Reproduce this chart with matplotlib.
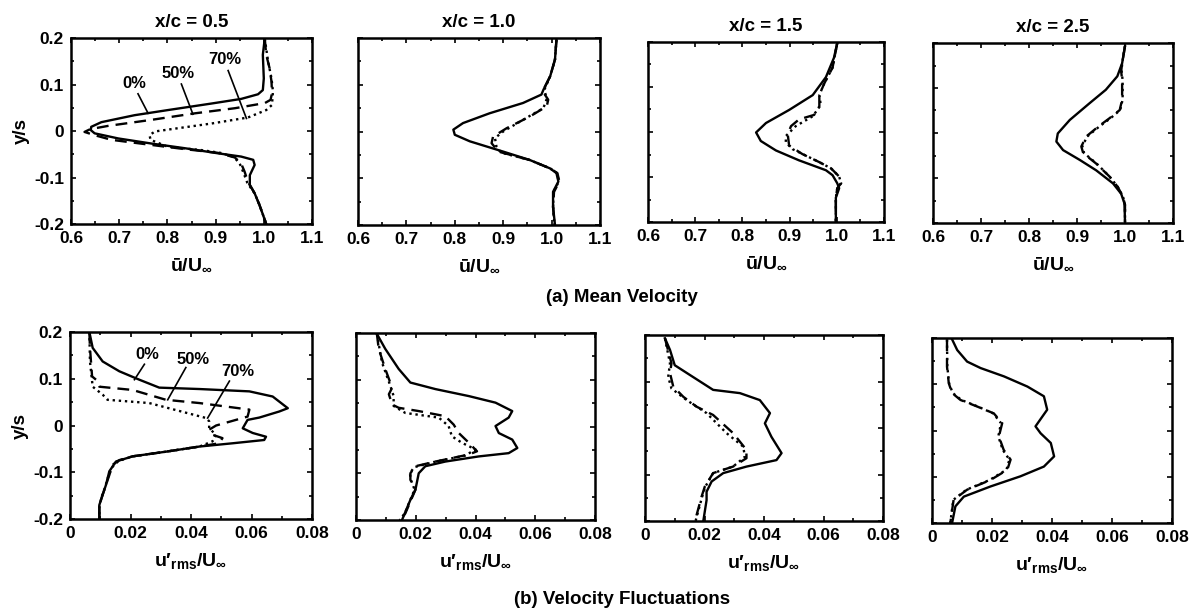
import matplotlib
matplotlib.use("Agg")
import matplotlib.pyplot as plt
from matplotlib.ticker import MultipleLocator

plt.rcParams["font.family"] = ["Liberation Sans", "DejaVu Sans"]
plt.rcParams["font.weight"] = "bold"
plt.rcParams["mathtext.fontset"] = "custom"
plt.rcParams["mathtext.rm"] = "Liberation Sans:bold"
plt.rcParams["mathtext.it"] = "Liberation Sans:bold"
plt.rcParams["mathtext.bf"] = "Liberation Sans:bold"

STATIONS = ["0.5", "1.0", "1.5", "2.5"]
CASES = ["0%", "50%", "70%"]

# ---- mean velocity profiles, u/U_inf vs y/s ----
mean_05_0_u = [1.002, 0.998, 1.000, 0.998, 0.988, 0.953, 0.891, 0.801, 0.732, 0.663, 0.642, 0.641, 0.649, 0.698,
               0.767, 0.836, 0.905, 0.953, 0.978, 0.981, 0.971, 0.971, 0.981, 0.991, 1.002, 1.005]
mean_05_0_y = [0.199, 0.164, 0.113, 0.088, 0.079, 0.069, 0.059, 0.045, 0.034, 0.019, 0.009, 0.002, -0.005, -0.016,
               -0.027, -0.037, -0.048, -0.055, -0.062, -0.073, -0.095, -0.116, -0.134, -0.159, -0.191, -0.200]
mean_05_50_u = [1.002, 1.005, 1.012, 1.016, 1.017, 1.014, 1.002, 0.940, 0.857, 0.767, 0.677, 0.640, 0.628, 0.649,
                0.684, 0.767, 0.836, 0.905, 0.940, 0.953, 0.960, 0.967, 0.981, 0.991, 1.002, 1.005]
mean_05_50_y = [0.199, 0.164, 0.135, 0.106, 0.081, 0.067, 0.060, 0.049, 0.038, 0.024, 0.011, 0.004, -0.002, -0.009,
                -0.019, -0.030, -0.039, -0.047, -0.057, -0.070, -0.087, -0.109, -0.134, -0.159, -0.191, -0.200]
mean_05_70_u = [1.002, 1.009, 1.016, 1.019, 1.017, 1.005, 0.967, 0.891, 0.822, 0.774, 0.763, 0.765, 0.801, 0.870,
                0.910, 0.938, 0.950, 0.958, 0.966, 0.981, 0.991, 1.002, 1.005]
mean_05_70_y = [0.199, 0.149, 0.113, 0.085, 0.056, 0.045, 0.029, 0.016, 0.006, -0.001, -0.009, -0.019, -0.034, -0.041,
                -0.047, -0.056, -0.070, -0.090, -0.112, -0.134, -0.159, -0.191, -0.200]

mean_10_0_u = [1.010, 1.007, 0.997, 0.983, 0.979, 0.941, 0.872, 0.817, 0.797, 0.800, 0.831, 0.900, 0.955, 0.997,
               1.010, 1.014, 1.003, 1.003, 1.007]
mean_10_0_y = [0.196, 0.154, 0.118, 0.089, 0.079, 0.061, 0.039, 0.018, 0.004, -0.007, -0.021, -0.043, -0.061, -0.079,
               -0.089, -0.107, -0.129, -0.161, -0.200]
mean_10_50_u = [1.010, 1.007, 0.997, 0.983, 0.986, 0.993, 0.990, 0.955, 0.907, 0.879, 0.876, 0.890, 0.955, 0.997,
                1.012, 1.016, 1.005, 1.003, 1.006]
mean_10_50_y = [0.196, 0.154, 0.118, 0.089, 0.079, 0.068, 0.054, 0.032, 0.007, -0.011, -0.025, -0.043, -0.061, -0.079,
                -0.089, -0.107, -0.129, -0.161, -0.200]
mean_10_70_u = [1.010, 1.007, 0.997, 0.985, 0.990, 0.983, 0.941, 0.900, 0.883, 0.886, 0.895, 0.955, 0.997, 1.011,
                1.015, 1.004, 1.003, 1.006]
mean_10_70_y = [0.196, 0.154, 0.118, 0.089, 0.070, 0.050, 0.025, 0.000, -0.014, -0.032, -0.045, -0.061, -0.079,
                -0.089, -0.107, -0.129, -0.161, -0.200]

mean_15_0_u = [1.001, 0.994, 0.977, 0.949, 0.899, 0.850, 0.829, 0.839, 0.871, 0.920, 0.977, 0.991, 1.001, 1.005,
               0.998, 0.998]
mean_15_0_y = [0.198, 0.165, 0.122, 0.082, 0.049, 0.020, -0.001, -0.020, -0.041, -0.063, -0.085, -0.096, -0.114,
               -0.125, -0.146, -0.200]
mean_15_50_u = [1.001, 0.991, 0.973, 0.963, 0.963, 0.952, 0.920, 0.903, 0.896, 0.899, 0.927, 0.963, 0.988, 1.005,
                1.009, 1.001, 0.998, 0.998]
mean_15_50_y = [0.198, 0.143, 0.107, 0.082, 0.057, 0.038, 0.028, 0.013, -0.005, -0.030, -0.049, -0.067, -0.081,
                -0.099, -0.114, -0.125, -0.146, -0.200]
mean_15_70_u = [1.001, 0.991, 0.973, 0.963, 0.966, 0.949, 0.913, 0.892, 0.892, 0.906, 0.963, 0.988, 1.005, 1.009,
                1.001, 0.998, 0.998]
mean_15_70_y = [0.198, 0.143, 0.107, 0.082, 0.060, 0.035, 0.013, -0.009, -0.023, -0.038, -0.067, -0.081, -0.099,
                -0.114, -0.125, -0.146, -0.200]

mean_25_0_u = [1.000, 0.994, 0.984, 0.960, 0.926, 0.885, 0.860, 0.857, 0.871, 0.906, 0.940, 0.975, 0.992, 0.999,
               1.000]
mean_25_0_y = [0.193, 0.155, 0.126, 0.096, 0.066, 0.029, -0.001, -0.019, -0.038, -0.060, -0.083, -0.112, -0.135,
               -0.157, -0.198]
mean_25_50_u = [1.000, 0.994, 0.992, 0.994, 0.994, 0.989, 0.968, 0.944, 0.919, 0.909, 0.913, 0.940, 0.968, 0.985,
                0.996, 1.000, 1.000]
mean_25_50_y = [0.193, 0.155, 0.137, 0.118, 0.074, 0.051, 0.033, 0.014, -0.008, -0.030, -0.045, -0.068, -0.097,
                -0.120, -0.142, -0.160, -0.198]
mean_25_70_u = [1.000, 0.994, 0.993, 0.995, 0.995, 0.990, 0.970, 0.946, 0.921, 0.911, 0.915, 0.941, 0.968, 0.985,
                0.996, 1.000, 1.000]
mean_25_70_y = [0.193, 0.155, 0.137, 0.118, 0.074, 0.051, 0.033, 0.014, -0.008, -0.030, -0.045, -0.068, -0.097,
                -0.120, -0.142, -0.160, -0.198]

# ---- velocity fluctuation profiles, u'rms/U_inf vs y/s ----
rms_05_0_u = [0.0064, 0.0075, 0.0108, 0.0163, 0.0229, 0.0295, 0.0428, 0.0593, 0.0670, 0.0720, 0.0692, 0.0626,
              0.0587, 0.0571, 0.0604, 0.0648, 0.0642, 0.0538, 0.0428, 0.0317, 0.0207, 0.0152, 0.0130, 0.0119,
              0.0108, 0.0097, 0.0097]
rms_05_0_y = [0.200, 0.166, 0.137, 0.116, 0.098, 0.081, 0.078, 0.073, 0.062, 0.037, 0.030, 0.017, 0.012, -0.006,
              -0.016, -0.024, -0.031, -0.038, -0.045, -0.056, -0.066, -0.077, -0.098, -0.127, -0.148, -0.170,
              -0.200]
rms_05_50_u = [0.0064, 0.0066, 0.0073, 0.0086, 0.0097, 0.0207, 0.0317, 0.0428, 0.0593, 0.0587, 0.0483, 0.0460,
               0.0472, 0.0504, 0.0493, 0.0428, 0.0317, 0.0207, 0.0163, 0.0141, 0.0130, 0.0119, 0.0108, 0.0097,
               0.0097]
rms_05_50_y = [0.200, 0.166, 0.105, 0.098, 0.083, 0.076, 0.055, 0.048, 0.034, 0.019, 0.000, -0.009, -0.020, -0.027,
               -0.038, -0.045, -0.056, -0.066, -0.074, -0.084, -0.106, -0.127, -0.148, -0.170, -0.200]
rms_05_70_u = [0.0064, 0.0066, 0.0075, 0.0108, 0.0124, 0.0262, 0.0450, 0.0460, 0.0460, 0.0483, 0.0471, 0.0428,
               0.0317, 0.0207, 0.0160, 0.0138, 0.0126, 0.0117, 0.0106, 0.0097, 0.0097]
rms_05_70_y = [0.200, 0.137, 0.083, 0.066, 0.055, 0.048, 0.016, 0.009, -0.006, -0.020, -0.034, -0.045, -0.056,
               -0.066, -0.076, -0.090, -0.110, -0.130, -0.150, -0.172, -0.200]

rms_10_0_u = [0.0070, 0.0098, 0.0143, 0.0182, 0.0266, 0.0378, 0.0467, 0.0523, 0.0511, 0.0467, 0.0478, 0.0523,
              0.0540, 0.0511, 0.0411, 0.0299, 0.0232, 0.0210, 0.0199, 0.0182, 0.0154]
rms_10_0_y = [0.198, 0.166, 0.123, 0.094, 0.080, 0.065, 0.051, 0.033, 0.019, 0.001, -0.014, -0.028, -0.046, -0.057,
              -0.064, -0.075, -0.085, -0.100, -0.135, -0.157, -0.200]
rms_10_50_u = [0.0070, 0.0076, 0.0098, 0.0121, 0.0110, 0.0121, 0.0143, 0.0210, 0.0299, 0.0327, 0.0344, 0.0378,
               0.0405, 0.0377, 0.0266, 0.0199, 0.0182, 0.0182, 0.0199, 0.0165, 0.0148]
rms_10_50_y = [0.198, 0.166, 0.123, 0.083, 0.069, 0.047, 0.040, 0.033, 0.022, 0.004, -0.014, -0.035, -0.053, -0.060,
               -0.075, -0.085, -0.100, -0.114, -0.135, -0.186, -0.200]
rms_10_70_u = [0.0070, 0.0087, 0.0115, 0.0126, 0.0126, 0.0165, 0.0277, 0.0310, 0.0321, 0.0355, 0.0400, 0.0366,
               0.0260, 0.0195, 0.0180, 0.0185, 0.0196, 0.0163, 0.0146]
rms_10_70_y = [0.198, 0.137, 0.087, 0.065, 0.044, 0.029, 0.019, 0.001, -0.021, -0.035, -0.049, -0.062, -0.076,
               -0.087, -0.100, -0.116, -0.135, -0.186, -0.200]

rms_15_0_u = [0.0067, 0.0084, 0.0100, 0.0151, 0.0229, 0.0319, 0.0386, 0.0420, 0.0403, 0.0425, 0.0459, 0.0442,
              0.0341, 0.0263, 0.0224, 0.0207, 0.0207, 0.0196]
rms_15_0_y = [0.193, 0.168, 0.135, 0.114, 0.082, 0.075, 0.060, 0.032, 0.010, -0.019, -0.054, -0.069, -0.083,
              -0.097, -0.115, -0.137, -0.155, -0.200]
rms_15_50_u = [0.0067, 0.0089, 0.0084, 0.0095, 0.0129, 0.0173, 0.0229, 0.0296, 0.0341, 0.0341, 0.0296, 0.0229,
               0.0201, 0.0190, 0.0168]
rms_15_50_y = [0.193, 0.139, 0.118, 0.089, 0.067, 0.046, 0.028, -0.011, -0.047, -0.065, -0.083, -0.097, -0.126,
               -0.148, -0.200]
rms_15_70_u = [0.0067, 0.0084, 0.0078, 0.0089, 0.0140, 0.0207, 0.0274, 0.0330, 0.0336, 0.0296, 0.0229, 0.0203,
               0.0192, 0.0170]
rms_15_70_y = [0.193, 0.139, 0.110, 0.085, 0.060, 0.032, -0.011, -0.040, -0.062, -0.083, -0.097, -0.126, -0.148,
               -0.200]

rms_25_0_u = [0.0067, 0.0084, 0.0117, 0.0162, 0.0240, 0.0318, 0.0373, 0.0384, 0.0345, 0.0362, 0.0396, 0.0407,
              0.0373, 0.0295, 0.0195, 0.0106, 0.0078, 0.0067]
rms_25_0_y = [0.197, 0.174, 0.149, 0.135, 0.117, 0.095, 0.074, 0.045, 0.009, -0.006, -0.027, -0.056, -0.078,
              -0.099, -0.121, -0.143, -0.164, -0.200]
rms_25_50_u = [0.0050, 0.0050, 0.0056, 0.0067, 0.0095, 0.0150, 0.0206, 0.0234, 0.0223, 0.0239, 0.0262, 0.0251,
               0.0195, 0.0117, 0.0072, 0.0061]
rms_25_50_y = [0.197, 0.138, 0.102, 0.081, 0.066, 0.052, 0.037, 0.016, -0.013, -0.042, -0.063, -0.085, -0.107,
               -0.128, -0.150, -0.200]
rms_25_70_u = [0.0050, 0.0051, 0.0057, 0.0069, 0.0098, 0.0152, 0.0204, 0.0230, 0.0221, 0.0236, 0.0258, 0.0248,
               0.0192, 0.0115, 0.0071, 0.0061]
rms_25_70_y = [0.197, 0.138, 0.102, 0.081, 0.066, 0.052, 0.037, 0.016, -0.013, -0.042, -0.063, -0.085, -0.107,
               -0.128, -0.150, -0.200]

MEAN_PROFILES = [
    [(mean_05_0_u, mean_05_0_y), (mean_05_50_u, mean_05_50_y), (mean_05_70_u, mean_05_70_y)],
    [(mean_10_0_u, mean_10_0_y), (mean_10_50_u, mean_10_50_y), (mean_10_70_u, mean_10_70_y)],
    [(mean_15_0_u, mean_15_0_y), (mean_15_50_u, mean_15_50_y), (mean_15_70_u, mean_15_70_y)],
    [(mean_25_0_u, mean_25_0_y), (mean_25_50_u, mean_25_50_y), (mean_25_70_u, mean_25_70_y)],
]
RMS_PROFILES = [
    [(rms_05_0_u, rms_05_0_y), (rms_05_50_u, rms_05_50_y), (rms_05_70_u, rms_05_70_y)],
    [(rms_10_0_u, rms_10_0_y), (rms_10_50_u, rms_10_50_y), (rms_10_70_u, rms_10_70_y)],
    [(rms_15_0_u, rms_15_0_y), (rms_15_50_u, rms_15_50_y), (rms_15_70_u, rms_15_70_y)],
    [(rms_25_0_u, rms_25_0_y), (rms_25_50_u, rms_25_50_y), (rms_25_70_u, rms_25_70_y)],
]

# label anchor (text x, text y) and leader line (x0, y0, x1, y1) per case, first column only
mean_label_pos = [(0.732, 0.103), (0.822, 0.124), (0.919, 0.153)]
mean_leader = [(0.739, 0.080, 0.760, 0.038), (0.829, 0.101, 0.853, 0.036), (0.926, 0.130, 0.964, 0.027)]
rms_label_pos = [(0.0257, 0.151), (0.0406, 0.141), (0.0554, 0.116)]
rms_leader = [(0.0246, 0.131, 0.0213, 0.098), (0.0383, 0.124, 0.0323, 0.055), (0.0527, 0.095, 0.0455, 0.016)]

mean_xticks = [0.6, 0.7, 0.8, 0.9, 1.0, 1.1]
rms_xticks = [0.0, 0.02, 0.04, 0.06, 0.08]
rms_xtick_labels = ["0", "0.02", "0.04", "0.06", "0.08"]
yticks = [-0.2, -0.1, 0.0, 0.1, 0.2]
ytick_labels = ["-0.2", "-0.1", "0", "0.1", "0.2"]

LINE_STYLES = ["-", (0, (5, 3)), (0, (1, 1.6))]

W, H = 1193, 613
# axes boxes in pixels: left, top, right, bottom
TOP_BOXES = [(71, 38, 312, 224), (358, 38, 600, 225), (648, 42, 884, 222), (933, 43, 1173, 223)]
BOTTOM_BOXES = [(70, 332, 312, 519), (356, 333, 595, 520), (645, 335, 883, 521), (932, 338, 1172, 523)]


def add_axes(fig, box):
    left, top, right, bottom = box
    return fig.add_axes([left / W, 1 - bottom / H, (right - left) / W, (bottom - top) / H])


def style_axes(ax, xticks, xlabels, x_minor, show_y):
    ax.set_ylim(-0.2, 0.2)
    ax.set_xlim(xticks[0], xticks[-1])
    ax.set_xticks(xticks)
    ax.set_xticklabels(xlabels)
    ax.set_yticks(yticks)
    ax.set_yticklabels(ytick_labels if show_y else [])
    ax.xaxis.set_minor_locator(MultipleLocator(x_minor))
    ax.yaxis.set_minor_locator(MultipleLocator(0.05))
    ax.tick_params(which="both", direction="in", top=True, right=True, width=1.2)
    ax.tick_params(which="major", length=3.5, labelsize=12.5, pad=5)
    ax.tick_params(which="minor", length=2)
    for spine in ax.spines.values():
        spine.set_linewidth(1.8)
    for lab in ax.get_xticklabels() + ax.get_yticklabels():
        lab.set_fontweight("bold")
    if show_y:
        ax.set_ylabel("y/s", fontsize=13.5, fontweight="bold", labelpad=3)


def draw_profiles(ax, profiles):
    for (u, y), ls in zip(profiles, LINE_STYLES):
        ax.plot(u, y, color="black", linestyle=ls, linewidth=1.7)


def draw_case_labels(ax, label_pos, leaders):
    for name, (tx, ty), (x0, y0, x1, y1) in zip(CASES, label_pos, leaders):
        ax.text(tx, ty, name, ha="center", va="center", fontsize=12, fontweight="bold")
        ax.plot([x0, x1], [y0, y1], color="black", linewidth=1.2)


fig = plt.figure(figsize=(W / 100, H / 100), dpi=100)

for i, box in enumerate(TOP_BOXES):
    ax = add_axes(fig, box)
    draw_profiles(ax, MEAN_PROFILES[i])
    style_axes(ax, mean_xticks, [f"{v:.1f}" for v in mean_xticks], 0.05, i == 0)
    ax.set_xlabel("ū/U$_{\\infty}$", fontsize=14, fontweight="bold", labelpad=8)
    ax.set_title(f"x/c = {STATIONS[i]}", fontsize=13.5, fontweight="bold", pad=8)
    if i == 0:
        draw_case_labels(ax, mean_label_pos, mean_leader)

for i, box in enumerate(BOTTOM_BOXES):
    ax = add_axes(fig, box)
    draw_profiles(ax, RMS_PROFILES[i])
    style_axes(ax, rms_xticks, rms_xtick_labels, 0.01, i == 0)
    ax.set_xlabel("u′$_{\\rm rms}$/U$_{\\infty}$", fontsize=14, fontweight="bold", labelpad=7)
    if i == 0:
        draw_case_labels(ax, rms_label_pos, rms_leader)

fig.text(622 / W, 1 - 297 / H, "(a) Mean Velocity", ha="center", va="center", fontsize=13.5, fontweight="bold")
fig.text(622 / W, 1 - 600 / H, "(b) Velocity Fluctuations", ha="center", va="center", fontsize=13.5,
         fontweight="bold")

fig.savefig("out.png", dpi=100)
